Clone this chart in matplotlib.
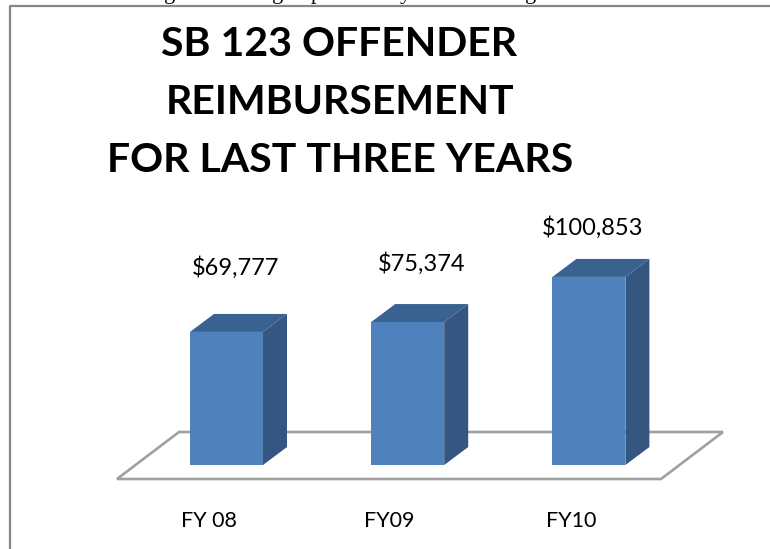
import matplotlib
matplotlib.use("Agg")
import matplotlib.pyplot as plt
from matplotlib.patches import Polygon

# values
categories = ["FY 08", "FY09", "FY10"]
values = [69777, 75374, 100853]
value_labels = ["$69,777", "$75,374", "$100,853"]
title_lines = ["SB 123 OFFENDER", "REIMBURSEMENT", "FOR LAST THREE YEARS"]
# tail ends of the line of document text cut off above the chart
cut_letters = ["g", "g", "p", "y", "g"]
cut_letter_px = [170, 278, 316, 405, 531]

# placement of the value labels relative to each bar, in pixels
label_dx = [9.5, 14, 4]
label_dy = [64, 59, 49]

W, H = 770, 549
px_per_cat = 181.2
dollars_per_px = 565
base_value = -5400  # the 3D floor sits a bit under zero
base_px = 465
bar_width = 73 / px_per_cat
depth_x = 24 / px_per_cat
depth_y = 18 * dollars_per_px

front_color = "#4f81bd"
top_color = "#3a6291"
side_color = "#345681"
line_color = "#a0a0a0"
label_font = "Lato"

fig = plt.figure(figsize=(W / 100, H / 100), dpi=100)
ax = fig.add_axes([0, 0, 1, 1])
ax.set_xlim(-226.5 / px_per_cat, (W - 226.5) / px_per_cat)
ax.set_ylim(base_value - (H - base_px) * dollars_per_px, base_value + base_px * dollars_per_px)
ax.axis("off")

x = list(range(len(categories)))

# floor of the chart
floor_front = base_value - 14 * dollars_per_px
floor_back = base_value + 33 * dollars_per_px
floor_left = -109.5 / px_per_cat
floor_right = 434.5 / px_per_cat
floor_skew = 62 / px_per_cat
ax.add_patch(Polygon(
    [(floor_left, floor_front), (floor_right, floor_front),
     (floor_right + floor_skew, floor_back), (floor_left + floor_skew, floor_back)],
    closed=True, facecolor="white", edgecolor=line_color, linewidth=1.9, zorder=1))

# front faces, then the top and side of each block
ax.bar(x, [v - base_value for v in values], bottom=base_value, width=bar_width,
       color=front_color, zorder=3)
for xi, v in zip(x, values):
    left = xi - bar_width / 2
    right = xi + bar_width / 2
    ax.add_patch(Polygon(
        [(left, v), (right, v), (right + depth_x, v + depth_y), (left + depth_x, v + depth_y)],
        closed=True, facecolor=top_color, edgecolor="none", zorder=2))
    ax.add_patch(Polygon(
        [(right, base_value), (right, v), (right + depth_x, v + depth_y),
         (right + depth_x, base_value + depth_y)],
        closed=True, facecolor=side_color, edgecolor="none", zorder=2))

for xi, v, lab, dx, dy in zip(x, values, value_labels, label_dx, label_dy):
    ax.annotate(lab, (xi, v), xytext=(dx, dy), textcoords="offset pixels",
                ha="center", va="center", fontsize=17, family=label_font, color="black")

for xi, cat in zip(x, categories):
    ax.annotate(cat, (xi, base_value), xytext=(-18, -56), textcoords="offset pixels",
                ha="center", va="center", fontsize=15.5, family=label_font, color="black")

# title, drawn by hand because it sits left of centre
title_y = [45, 102.5, 160]
title_x = [339, 340, 340]
for line, tx, ty in zip(title_lines, title_x, title_y):
    fig.text(tx / W, 1 - ty / H, line, ha="center", va="center",
             fontsize=29.5, fontweight="bold", family=label_font, color="black")

# outer frame, open on the right and bottom
fig.add_artist(plt.Line2D([9.5 / W, 9.5 / W, 1], [0, 1 - 5.5 / H, 1 - 5.5 / H],
                          color="#868686", linewidth=1.6))

for ch, px in zip(cut_letters, cut_letter_px):
    fig.text(px / W, 1 + 1 / H, ch, ha="center", va="baseline",
             fontsize=16, family="Liberation Serif", color="black")

fig.savefig("out.png", dpi=100)
